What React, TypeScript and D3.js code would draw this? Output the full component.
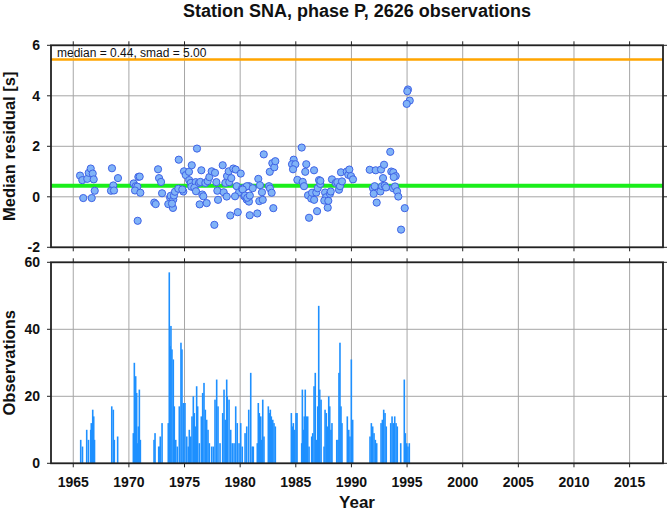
import React from "react";
import * as d3 from "d3";

// ---- data ----
const residualYears = [
  1965.61, 1965.81, 1966.26, 1966.39, 1966.57, 1966.75, 1966.84, 1965.90, 1966.66, 1966.93,
  1968.48, 1969.02, 1968.60, 1968.39, 1968.66,
  1970.43, 1970.61, 1970.76, 1970.55, 1971.03, 1970.85, 1970.97, 1970.79,
  1972.62, 1972.71, 1972.89, 1972.28, 1972.41, 1972.98,
  1973.54, 1973.70, 1973.76, 1973.99, 1973.96, 1973.87, 1974.05, 1974.14, 1974.48, 1974.44,
  1974.89, 1974.80, 1974.95, 1975.11, 1975.40, 1975.65, 1975.42, 1975.56, 1975.61, 1976.12,
  1976.00, 1975.88, 1976.03, 1976.51, 1976.30, 1976.42, 1976.36, 1976.60, 1976.69, 1976.87,
  1977.08, 1976.99, 1977.23, 1977.44, 1977.74, 1977.86, 1977.95, 1978.01, 1977.68,
  1978.43, 1978.52, 1978.67, 1978.82, 1978.97, 1979.02, 1979.20, 1978.79, 1979.11, 1979.38,
  1979.60, 1979.78, 1979.69, 1979.90, 1980.05, 1979.54, 1980.17, 1980.37, 1980.59, 1980.79,
  1980.86, 1980.80, 1980.38, 1980.60, 1980.23, 1980.44, 1980.64, 1980.87,
  1981.13, 1981.54, 1981.63, 1981.78, 1981.96, 1981.72, 1982.03, 1982.12,
  1982.59, 1982.68, 1982.83, 1982.66, 1982.89, 1983.07, 1983.16, 1982.98,
  1985.53, 1984.81, 1984.66, 1984.96, 1984.75, 1985.14, 1985.62, 1985.74, 1985.94, 1985.85,
  1986.10, 1986.19, 1986.39, 1986.64, 1986.46, 1986.65, 1986.84, 1986.91, 1986.97,
  1987.09, 1987.20, 1987.21, 1987.63, 1987.72, 1987.56, 1987.87, 1987.92,
  1988.07, 1988.14, 1988.25, 1988.59, 1988.73, 1988.88, 1988.97, 1989.15, 1989.06,
  1989.58, 1989.72, 1989.81, 1989.96, 1990.14,
  1991.64, 1991.94, 1992.09, 1992.00, 1992.18, 1992.27, 1992.60, 1992.66, 1992.93, 1992.84,
  1992.75, 1992.99, 1993.11, 1993.49, 1993.58, 1993.76, 1993.98, 1993.74, 1993.92, 1994.10,
  1994.21, 1994.79, 1994.46, 1995.08, 1995.02, 1995.24, 1994.97, 1993.80,
];
const residualValues = [
  0.84, 0.66, 0.71, 0.95, 1.12, 0.92, 0.69, -0.05, -0.05, 0.24,
  1.13, 0.74, 0.45, 0.24, 0.25,
  0.53, 0.42, 0.40, 0.25, 0.16, 0.79, 0.80, -0.95,
  1.09, 0.74, 0.59, -0.23, -0.29, 0.14,
  -0.29, -0.03, 0.04, -0.11, -0.44, -0.27, 0.05, 0.20, 1.47, 0.32,
  0.21, 0.29, 1.01, 0.86, 0.99, 1.25, 0.66, 0.55, 0.40, 1.91,
  0.58, 0.36, 0.22, 1.05, 0.55, 0.59, -0.30, 0.09, 0.02, 0.55,
  0.62, -0.25, 0.78, 1.01, 0.95, 0.58, 0.24, -0.12, -1.11,
  1.25, 0.18, 0.55, 0.82, 1.01, 0.58, 0.74, 0.01, -0.74, 1.12,
  1.08, -0.61, 0.42, 0.18, 0.92, 0.02, 0.32, 0.02, -0.11, -0.19,
  -0.73, 0.42, 0.36, 0.42, 0.29, 0.05, -0.04, 0.05,
  0.34, -0.66, 0.71, 0.46, 0.18, -0.17, -0.12, 1.68,
  0.42, 0.33, 0.16, 0.99, 1.33, 1.17, 1.41, -0.45,
  1.95, 1.47, 1.29, 1.29, 1.09, 0.67, 0.59, 0.42, 1.29, 0.99,
  0.06, -0.83, -0.07, 1.05, 0.16, -0.12, 0.17, -0.57, 0.34,
  0.66, 0.51, 0.63, 0.17, -0.02, -0.15, -0.43, -0.16,
  0.12, 0.21, 0.69, 0.55, 0.58, 0.28, 0.42, 0.61, 0.97,
  1.00, 0.87, 1.08, 0.82, 0.69,
  1.07, 0.34, 0.42, 0.12, 1.05, -0.23, 0.21, 1.08, 1.27, 0.74,
  0.42, 0.44, 0.37, 1.78, 1.00, 0.97, 0.82, 0.34, 0.41, 0.22,
  0.01, -0.45, -1.30, 4.25, 4.18, 3.81, 3.68, 0.78,
];

const countYears = [
  1965.67, 1965.83, 1966.21, 1966.37, 1966.57, 1966.62, 1966.75, 1966.84, 1966.91,
  1968.46, 1968.60, 1968.69, 1968.99,
  1970.40, 1970.49, 1970.61, 1970.70, 1970.76, 1970.85, 1970.94, 1971.03,
  1972.26, 1972.35, 1972.68, 1972.75, 1972.82, 1972.98,
  1973.54, 1973.63, 1973.70, 1973.78, 1973.87, 1973.99, 1974.08, 1974.21, 1974.35,
  1974.53, 1974.68, 1974.77, 1974.89, 1975.04, 1975.20, 1975.34, 1975.43, 1975.56,
  1975.67, 1975.79, 1975.88, 1976.00, 1976.09, 1976.18, 1976.33, 1976.51, 1976.63,
  1976.75, 1976.87, 1976.99, 1977.11, 1977.23, 1977.44, 1977.59, 1977.74, 1977.89,
  1978.01, 1978.19, 1978.43, 1978.55, 1978.66, 1978.79, 1978.84, 1979.00, 1979.15,
  1979.29, 1979.45, 1979.60, 1979.74, 1979.90, 1980.05, 1980.19, 1980.44, 1980.59,
  1980.77, 1980.95, 1981.09, 1981.18, 1981.54, 1981.63, 1981.72, 1981.85, 1981.94,
  1982.03, 1982.14, 1982.53, 1982.62, 1982.71, 1982.80, 1982.93, 1983.04, 1983.16,
  1984.60, 1984.69, 1984.78, 1984.90, 1985.02, 1985.11, 1985.53, 1985.59, 1985.68,
  1985.76, 1985.85, 1985.94, 1986.07, 1986.19, 1986.43, 1986.52, 1986.64, 1986.75,
  1986.88, 1986.97, 1987.06, 1987.15, 1987.27, 1987.54, 1987.63, 1987.74, 1987.83,
  1987.96, 1988.05, 1988.16, 1988.25, 1988.68, 1988.79, 1988.88, 1988.97, 1989.06,
  1989.15, 1989.63, 1989.76, 1989.87, 1989.99, 1990.11,
  1991.67, 1991.79, 1991.91, 1992.03, 1992.15, 1992.27, 1992.66, 1992.78, 1992.90,
  1993.02, 1993.13, 1993.53, 1993.65, 1993.76, 1993.89, 1994.01, 1994.12, 1994.43,
  1994.75, 1994.84, 1994.97, 1995.08, 1995.20,
];
const countValues = [
  7, 5, 10, 7, 10, 12, 16, 14, 7,
  17, 16, 7, 8,
  9, 30, 26, 21, 6, 11, 22, 7,
  7, 9, 5, 5, 8, 12,
  12, 57, 35, 41, 34, 31, 17, 7, 5,
  17, 36, 34, 18, 18, 8, 5, 10, 8,
  14, 20, 15, 11, 23, 17, 6, 14, 21,
  24, 16, 13, 10, 6, 5, 5, 19, 25,
  17, 6, 15, 22, 13, 25, 20, 19, 10,
  6, 6, 17, 12, 6, 12, 5, 9, 11,
  16, 27, 5, 5, 6, 18, 15, 14, 7,
  19, 8, 17, 15, 16, 14, 13, 12, 11,
  15, 11, 12, 10, 15, 15, 6, 22, 10,
  14, 22, 14, 14, 5, 8, 9, 23, 27,
  7, 17, 47, 22, 19, 5, 16, 15, 11,
  20, 17, 10, 12, 7, 7, 27, 36, 17,
  12, 14, 10, 8, 31, 13,
  8, 12, 11, 9, 7, 6, 12, 13, 16,
  15, 11, 12, 14, 12, 14, 12, 11, 6,
  25, 9, 6, 5, 6,
];

const yearTicks = [1965, 1970, 1975, 1980, 1985, 1990, 1995, 2000, 2005, 2010, 2015];
const residualTicks = [-2, 0, 2, 4, 6];
const countTicks = [0, 20, 40, 60];
const medianValue = 0.44;
const smadValue = 5.0;
const titleText = "Station SNA, phase P, 2626 observations";

const FONT = "'Liberation Sans', Arial, Helvetica, sans-serif";

export default function App() {
  const W = 669, H = 511;
  const L = 51, R = 663;
  const topT = 45.3, topB = 247.3;
  const botT = 262.3, botB = 463.3;

  const x = d3.scaleLinear().domain([1963, 2018]).range([L, R]);
  const yTop = d3.scaleLinear().domain([-2, 6]).range([topB, topT]);
  const yBot = d3.scaleLinear().domain([0, 60]).range([botB, botT]);

  const gridColor = "#a6a6a6";
  const frameColor = "#222";
  const tick = 4;

  const panelFrame = (t: number, b: number, yTicks: number[], ys: d3.ScaleLinear<number, number>) => (
    <g>
      {yearTicks.map((yr) => (
        <line key={"gx" + yr} x1={x(yr)} x2={x(yr)} y1={t} y2={b} stroke={gridColor} strokeWidth={1} />
      ))}
      {yTicks.map((v) => (
        <line key={"gy" + v} x1={L} x2={R} y1={ys(v)} y2={ys(v)} stroke={gridColor} strokeWidth={1} />
      ))}
    </g>
  );

  const panelBorder = (t: number, b: number, yTicks: number[], ys: d3.ScaleLinear<number, number>, showLabels: boolean) => (
    <g>
      <rect x={L} y={t} width={R - L} height={b - t} fill="none" stroke={frameColor} strokeWidth={1.8} />
      {yearTicks.map((yr) => (
        <g key={"tx" + yr}>
          <line x1={x(yr)} x2={x(yr)} y1={t - tick} y2={t} stroke={frameColor} strokeWidth={1} />
          <line x1={x(yr)} x2={x(yr)} y1={b} y2={b + tick} stroke={frameColor} strokeWidth={1} />
        </g>
      ))}
      {yTicks.map((v) => (
        <g key={"ty" + v}>
          <line x1={L - tick} x2={L} y1={ys(v)} y2={ys(v)} stroke={frameColor} strokeWidth={1} />
          <line x1={R} x2={R + tick} y1={ys(v)} y2={ys(v)} stroke={frameColor} strokeWidth={1} />
          {showLabels && (
            <text x={L - 11} y={ys(v)} dy="0.36em" textAnchor="end" fontSize={14} fontWeight="bold" fill="#111">
              {v}
            </text>
          )}
        </g>
      ))}
    </g>
  );

  return (
    <svg
      width={W}
      height={H}
      style={{ position: "absolute", left: 0, top: 0, background: "#fff" }}
      fontFamily={FONT}
    >
      <rect x={0} y={0} width={W} height={H} fill="#fff" />
      <text x={(L + R) / 2} y={17} textAnchor="middle" fontSize={18} fontWeight="bold" fill="#111">
        {titleText}
      </text>

      {/* Top panel */}
      {panelFrame(topT, topB, residualTicks, yTop)}
      <line x1={L} x2={R} y1={yTop(medianValue + smadValue)} y2={yTop(medianValue + smadValue)} stroke="#ffa500" strokeWidth={2.5} />
      <line x1={L} x2={R} y1={yTop(medianValue)} y2={yTop(medianValue)} stroke="#1aee1a" strokeWidth={4} />
      {residualYears.map((yr, i) => (
        <circle
          key={"p" + i}
          cx={x(yr)}
          cy={yTop(residualValues[i])}
          r={3.6}
          fill="#80b3f7"
          stroke="#3f63e6"
          strokeWidth={1}
        />
      ))}
      <text x={57} y={57} fontSize={12} fill="#111">
        {`median = ${medianValue.toFixed(2)}, smad = ${smadValue.toFixed(2)}`}
      </text>
      {panelBorder(topT, topB, residualTicks, yTop, true)}

      {/* Bottom panel */}
      {panelFrame(botT, botB, countTicks, yBot)}
      {countYears.map((yr, i) => (
        <rect
          key={"b" + i}
          x={x(yr) - 0.8}
          y={yBot(countValues[i])}
          width={1.6}
          height={yBot(0) - yBot(countValues[i])}
          fill="#1e90ff"
        />
      ))}
      {panelBorder(botT, botB, countTicks, yBot, true)}

      {yearTicks.map((yr) => (
        <text key={"xl" + yr} x={x(yr)} y={487} textAnchor="middle" fontSize={14} fontWeight="bold" fill="#111">
          {yr}
        </text>
      ))}
      <text x={(L + R) / 2} y={508} textAnchor="middle" fontSize={17} fontWeight="bold" fill="#111">
        Year
      </text>
      <text
        transform={`translate(15,${(topT + topB) / 2}) rotate(-90)`}
        textAnchor="middle"
        fontSize={16.5}
        fontWeight="bold"
        fill="#111"
      >
        Median residual [s]
      </text>
      <text
        transform={`translate(15,${(botT + botB) / 2}) rotate(-90)`}
        textAnchor="middle"
        fontSize={16.5}
        fontWeight="bold"
        fill="#111"
      >
        Observations
      </text>
    </svg>
  );
}
